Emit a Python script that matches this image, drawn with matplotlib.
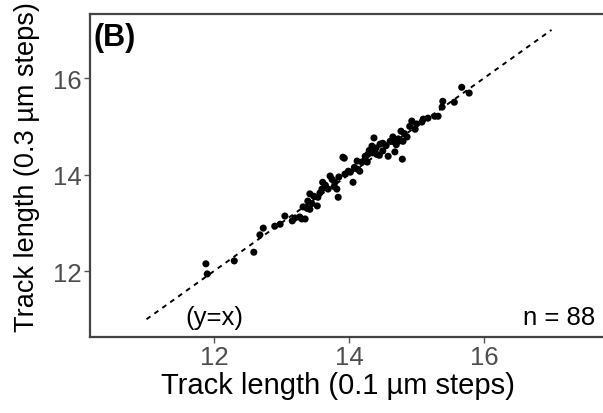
import matplotlib
matplotlib.use("Agg")
import matplotlib.pyplot as plt

plt.rcParams['font.family'] = ['Liberation Sans', 'DejaVu Sans']

steps_01 = [11.88, 11.90, 12.30, 12.59, 12.68, 12.73, 12.90, 12.98, 13.05, 13.16,
            13.30, 13.35, 13.32, 13.39, 13.42, 13.42, 13.53, 13.54, 13.60, 13.61,
            13.72, 13.79, 13.82, 13.84, 13.94, 13.99, 13.93, 14.06, 14.12, 14.13,
            14.27, 14.28, 14.37, 14.34, 14.41, 14.50, 14.58, 14.64, 14.68, 14.73,
            14.77, 14.79, 14.80, 14.86, 14.93, 14.98, 15.10, 15.17, 15.32, 15.38,
            15.39, 15.56, 15.67, 15.78, 13.91, 14.24, 14.16, 13.69, 13.27, 14.46,
            14.61, 15.08, 15.27, 14.50, 14.24, 14.19, 13.45, 13.48, 13.65, 13.75,
            13.85, 14.02, 14.30, 14.40, 14.55, 14.70, 14.82, 14.90, 13.38, 13.57,
            14.08, 14.35, 14.65, 13.20, 13.78, 14.45, 14.75, 15.00]
steps_03 = [12.15, 11.94, 12.21, 12.39, 12.75, 12.89, 12.93, 12.97, 13.14, 13.04,
            13.08, 13.08, 13.33, 13.45, 13.60, 13.28, 13.35, 13.53, 13.70, 13.84,
            13.97, 13.84, 13.70, 13.53, 14.01, 14.07, 14.34, 13.84, 14.28, 14.11,
            14.26, 14.42, 14.76, 14.59, 14.42, 14.65, 14.38, 14.69, 14.47, 14.74,
            14.90, 14.32, 14.69, 14.78, 15.11, 14.94, 15.15, 15.17, 15.21, 15.40,
            15.52, 15.50, 15.81, 15.69, 14.36, 14.32, 14.07, 13.70, 13.12, 14.63,
            14.69, 15.09, 15.21, 14.49, 14.38, 14.26, 13.40, 13.55, 13.78, 13.90,
            13.95, 14.05, 14.50, 14.55, 14.60, 14.62, 14.85, 15.00, 13.30, 13.62,
            14.15, 14.45, 14.78, 13.10, 13.75, 14.40, 14.70, 15.05]
identity_line = [11, 17]
ticks = [12, 14, 16]

fig = plt.figure(figsize=(6.03, 4.14), dpi=100)
ax = fig.add_axes([90/603, 1-338/414, 525/603, 323/414])

ax.plot(identity_line, identity_line, color='black', linestyle=(0, (2.5, 2.5)), linewidth=1.4, zorder=1)
ax.scatter(steps_01, steps_03, s=26, color='black', edgecolors='none', zorder=2)

x0 = 10.163
ax.set_xlim(x0, x0 + 525/67.5)
ax.set_ylim(10.632, 17.33)
ax.set_xticks(ticks)
ax.set_yticks(ticks)
ax.tick_params(axis='both', direction='out', length=4, width=1, color='#555555',
               labelsize=18.5, labelcolor='#4D4D4D', pad=2)
for sp in ax.spines.values():
    sp.set_color('#444444')
    sp.set_linewidth(1.6)

ax.set_xlabel('Track length (0.1 µm steps)', fontsize=21)
ax.set_ylabel('Track length (0.3 µm steps)', fontsize=19.5)
ax.xaxis.set_label_coords((338-90)/525, -0.105)
ax.yaxis.set_label_coords(-0.095, 0.53)

ax.text(0.006, 0.975, '(B)', transform=ax.transAxes, fontsize=22, fontweight='bold',
        va='top', ha='left')
ax.text(12.0, 11.05, '(y=x)', fontsize=18.5, ha='center', va='center')
ax.text(17.65, 11.05, 'n = 88', fontsize=18.5, ha='right', va='center')

fig.savefig('out.png', dpi=100)
